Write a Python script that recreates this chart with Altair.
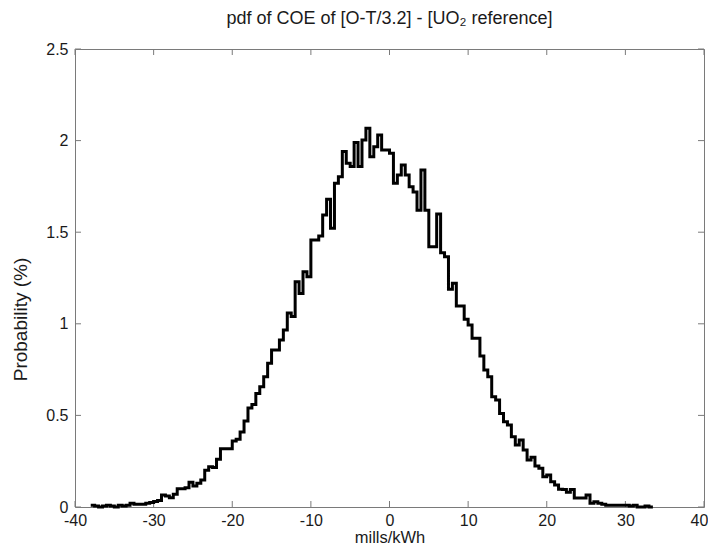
import altair as alt
import pandas as pd

# histogram (stairs) of the pdf
bin_start = -38.0
bin_width = 0.5
prob = [
    0.01, 0.005, 0.0, 0.005, 0.01, 0.005, 0.0, 0.01, 0.005, 0.01,
    0.02, 0.015, 0.015, 0.015, 0.02, 0.025, 0.03, 0.035, 0.065, 0.06,
    0.05, 0.07, 0.1, 0.1, 0.105, 0.135, 0.115, 0.13, 0.147, 0.2,
    0.22, 0.215, 0.26, 0.318, 0.318, 0.318, 0.36, 0.37, 0.41, 0.47,
    0.54, 0.56, 0.62, 0.657, 0.711, 0.784, 0.857, 0.857, 0.911, 0.966,
    1.059, 1.04, 1.23, 1.166, 1.284, 1.257, 1.457, 1.457, 1.479, 1.594,
    1.68, 1.521, 1.767, 1.803, 1.94, 1.876, 1.858, 1.99, 1.858, 2.003,
    2.067, 1.912, 1.967, 2.03, 1.949, 1.949,
    1.931, 1.767, 1.812, 1.867, 1.812, 1.748, 1.72, 1.62, 1.84, 1.62,
    1.421, 1.421, 1.6, 1.388, 1.366, 1.188, 1.221, 1.097, 1.097, 1.025,
    0.993, 0.921, 0.921, 0.824, 0.748, 0.711, 0.602, 0.584, 0.511, 0.466,
    0.448, 0.384, 0.338, 0.366, 0.311, 0.257, 0.271, 0.224, 0.211, 0.165,
    0.175, 0.138, 0.12, 0.097, 0.095, 0.08, 0.095, 0.049, 0.049, 0.049,
    0.066, 0.02, 0.029, 0.02, 0.015, 0.01, 0.01, 0.01, 0.01, 0.01,
    0.01, 0.005, 0.01, 0.0, 0.0, 0.005, 0.0,
]
x_ticks = [-40, -30, -20, -10, 0, 10, 20, 30, 40]
y_ticks = [0, 0.5, 1, 1.5, 2, 2.5]

edges = [bin_start + i * bin_width for i in range(len(prob) + 1)]
df = pd.DataFrame({"x": edges, "p": prob + [prob[-1]]})
xt = pd.DataFrame({"x": x_ticks})
yt = pd.DataFrame({"p": y_ticks})

W, H = 629, 458
FONT = "Liberation Sans"
FRAME = "#7a7a7a"
TEXT = "#1a1a1a"
TICK = 6

xs = alt.Scale(domain=[-40, 40], nice=False, zero=False)
ys = alt.Scale(domain=[0, 2.5], nice=False, zero=False)

ax_x = alt.Axis(
    values=x_ticks, title="mills/kWh", labelExpr="'' + datum.value",
    ticks=False, domain=False, grid=False, labelPadding=5, labelFlush=False,
    labelOffset={"condition": {"test": "datum.value == 40", "value": -5},
                 "value": 0},
    titleX=W / 2, titleY=35, titleBaseline="alphabetic", titleAlign="center",
    titleFontSize=16.5)
ax_y = alt.Axis(
    values=y_ticks, title="Probability (%)", labelExpr="'' + datum.value",
    ticks=False, domain=False, grid=False, labelPadding=7, labelFlush=False,
    titleX=-55, titleY=270, titleAngle=-90, titleBaseline="middle",
    titleAlign="center", titleFontSize=19)

X = alt.X("x:Q", scale=xs, axis=ax_x, title="mills/kWh")
Y = alt.Y("p:Q", scale=ys, axis=ax_y, title="Probability (%)")

line = alt.Chart(df).mark_line(
    interpolate="step-after", color="black", strokeWidth=3
).encode(x=X, y=Y)

tick_b = alt.Chart(xt).mark_rule(color=FRAME, strokeWidth=1).encode(
    x=X, y=alt.value(H), y2=alt.value(H - TICK))
tick_t = alt.Chart(xt).mark_rule(color=FRAME, strokeWidth=1).encode(
    x=X, y=alt.value(0), y2=alt.value(TICK))
tick_l = alt.Chart(yt).mark_rule(color=FRAME, strokeWidth=1).encode(
    y=Y, x=alt.value(0), x2=alt.value(TICK))
tick_r = alt.Chart(yt).mark_rule(color=FRAME, strokeWidth=1).encode(
    y=Y, x=alt.value(W), x2=alt.value(W - TICK))

chart = alt.layer(tick_b, tick_t, tick_l, tick_r, line).properties(
    width=W, height=H,
    title=alt.TitleParams("pdf of COE of [O-T/3.2] - [UO₂ reference]"),
    padding={"left": 67, "top": 41, "right": 4, "bottom": 37},
    autosize=alt.AutoSizeParams(type="none"),
).configure_view(
    stroke=FRAME, strokeWidth=1
).configure_axis(
    labelFont=FONT, titleFont=FONT, labelColor=TEXT, titleColor=TEXT,
    labelFontSize=16, titleFontWeight="normal",
).configure_title(
    font=FONT, fontSize=18, fontWeight="normal", color=TEXT,
    anchor="middle", offset=13,
)

chart.save("out.html", embed_options={"renderer": "svg", "actions": False})
